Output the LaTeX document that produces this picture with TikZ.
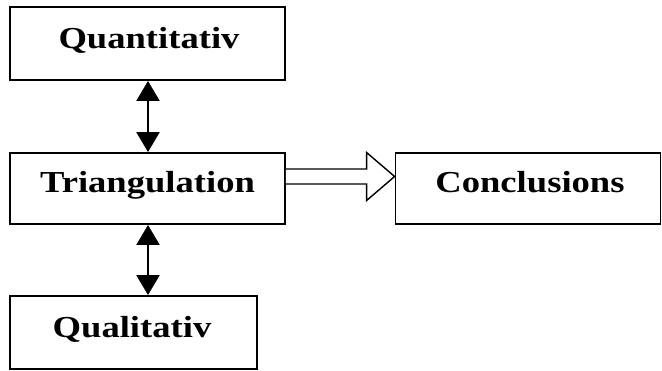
\documentclass[tikz,border=0pt]{standalone}
\usepackage{fontspec}
\newfontfamily\boxfont{Liberation Serif}[FakeStretch=1.2]
\usetikzlibrary{arrows.meta,calc}
\begin{document}
\begin{tikzpicture}[x=1pt,y=-1pt,
  box/.style={draw=black,line width=1.8pt,inner sep=0pt,fill=white},
  lbl/.style={anchor=base,inner sep=0pt,font=\boxfont\bfseries\fontsize{30.5}{36}\selectfont},
  dbl/.style={line width=2pt,{Triangle[length=20pt,width=23pt]}-{Triangle[length=20pt,width=23pt]}},
  blk/.style={draw=black,line width=1.4pt,fill=white,line join=miter}]
\useasboundingbox (0,0) rectangle (662,370);
\node[box,minimum width=275pt,minimum height=73pt] (quant) at (147.5,43.5) {};
\node[box,minimum width=275pt,minimum height=71pt] (tri) at (147.5,188.5) {};
\node[box,minimum width=247pt,minimum height=73pt] (qual) at (133.5,332.5) {};
\node[box,minimum width=265pt,minimum height=71pt] (conc) at (528,188.5) {};
\node[lbl] (tquant) at (149,48) {Quantitativ};
\node[lbl] (ttri) at (147.5,192) {Triangulation};
\node[lbl] (tqual) at (132,337) {Qualitativ};
\node[lbl] (tconc) at (530,192) {Conclusions};
\draw[dbl] (quant.south -| 148,0) -- (tri.north -| 148,0);
\draw[dbl] (tri.south -| 148,0) -- (qual.north -| 148,0);
\coordinate (s) at ($(tri.east)+(0,-12)$);
\coordinate (t) at ($(conc.west)+(0,-12)$);
\draw[blk] ($(s)+(0,-7.5)$) -- ($(t)+(-28,-7.5)$) -- ($(t)+(-28,-24)$) -- (t)
  -- ($(t)+(-28,24)$) -- ($(t)+(-28,7.5)$) -- ($(s)+(0,7.5)$);
\end{tikzpicture}
\end{document}
